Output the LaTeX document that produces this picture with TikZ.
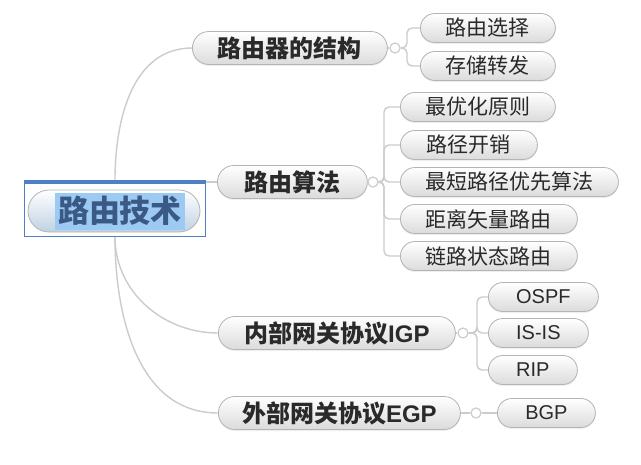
\documentclass[tikz,border=0pt]{standalone}
\usepackage{fontspec}
\setmainfont{Noto Sans CJK SC}
\newfontfamily\lat{Liberation Sans}
\usetikzlibrary{shapes.misc,positioning,shadows}
\definecolor{mline}{HTML}{CCCCCC}
\definecolor{mborder}{HTML}{B4B4B4}
\definecolor{mtext}{HTML}{2A2A2A}
\definecolor{rblue}{HTML}{4F7FC4}
\definecolor{rtext}{HTML}{3A5A85}
\definecolor{rsel}{HTML}{9DCAF2}

\begin{document}
\begin{tikzpicture}[x=1pt, y=1pt,
  pill/.style={rounded rectangle, draw=mborder, line width=0.8pt, top color=white, bottom color=gray!28,
    text=mtext, inner sep=0pt, anchor=west, drop shadow={opacity=0.12, shadow xshift=0pt, shadow yshift=-1.5pt}},
  topic/.style={pill, minimum height=33pt, font=\bfseries\fontsize{24}{24}\selectfont},
  leaf/.style={pill, minimum height=29pt, font=\fontsize{21}{21}\selectfont},
  knob/.style={circle, draw=mline, fill=white, line width=1.2pt, minimum size=10pt, inner sep=0pt},
  link/.style={draw=mline, line width=1.4pt},
  branch/.style={link, rounded corners=5pt}]
\useasboundingbox[fill=white] (0,0) rectangle (641,-464);

% central topic
\node[draw=rblue, line width=1pt, minimum width=181pt, minimum height=56pt, inner sep=0pt, anchor=north west] (frame) at (24,-180) {};
\fill[rblue] (frame.north west) rectangle ([yshift=-4pt]frame.north east);
\node[rounded rectangle, draw=mborder, line width=0.8pt, top color=white, bottom color=rsel!70!gray!60,
  minimum width=172pt, minimum height=42pt, inner sep=0pt] (rpill) at (114,-211) {};
\node[fill=rsel, text=rtext, font=\bfseries\fontsize{31}{31}\selectfont, inner xsep=3pt, minimum height=37pt] (root) at (120,-211) {路由技术};

% main topics
\node[topic, minimum width=195pt] (n1) at (192,-48) {路由器的结构};
\node[topic, minimum width=150pt] (n2) at (217,-182) {路由算法};
\node[topic, minimum width=237pt] (n3) at (218,-333) {内部网关协议{\lat\bfseries IGP}};
\node[topic, minimum width=242pt] (n4) at (218,-413) {外部网关协议{\lat\bfseries EGP}};

\node[knob] (k1) at (395,-48) {};
\node[knob] (k2) at (373,-182) {};
\node[knob] (k3) at (463,-333) {};
\node[knob] (k4) at (476,-413) {};

% subtopics
\node[leaf, minimum width=135pt] (a1) at (420,-28) {路由选择};
\node[leaf, minimum width=135pt] (a2) at (420,-66) {存储转发};

\node[leaf, minimum width=155pt] (b1) at (400,-107) {最优化原则};
\node[leaf, minimum width=137pt] (b2) at (400,-145) {路径开销};
\node[leaf, minimum width=218pt] (b3) at (400,-182) {最短路径优先算法};
\node[leaf, minimum width=177pt] (b4) at (400,-219) {距离矢量路由};
\node[leaf, minimum width=177pt] (b5) at (400,-256) {链路状态路由};

\node[leaf, minimum width=110pt, font=\lat\fontsize{20}{20}\selectfont] (c1) at (488,-297) {OSPF};
\node[leaf, minimum width=100pt, font=\lat\fontsize{20}{20}\selectfont] (c2) at (488,-333) {IS-IS};
\node[leaf, minimum width=89pt, font=\lat\fontsize{20}{20}\selectfont] (c3) at (488,-370) {RIP};

\node[leaf, minimum width=98pt, font=\lat\fontsize{20}{20}\selectfont] (d1) at (497,-413) {BGP};

% connectors
\draw[link] (frame.north) to[out=90, in=180] (n1.west);
\draw[link] (frame.east |- n2.west) -- (n2.west);
\draw[link] (frame.south) to[out=-90, in=180] (n3.west);
\draw[link] (frame.south) to[out=-90, in=180] (n4.west);

\draw[link] (n1.east) -- (k1.west);
\draw[link] (n2.east) -- (k2.west);
\draw[link] (n3.east) -- (k3.west);
\draw[link] (n4.east) -- (k4.west);

\foreach \s in {a1,a2}
  \draw[branch] (k1.east) -| ([xshift=-13pt]\s.west) -- (\s.west);
\foreach \s in {b1,b2,b3,b4,b5}
  \draw[branch] (k2.east) -| ([xshift=-16pt]\s.west) -- (\s.west);
\foreach \s in {c1,c2,c3}
  \draw[branch] (k3.east) -| ([xshift=-11pt]\s.west) -- (\s.west);
\draw[link] (k4.east) -- (d1.west);
\end{tikzpicture}
\end{document}
